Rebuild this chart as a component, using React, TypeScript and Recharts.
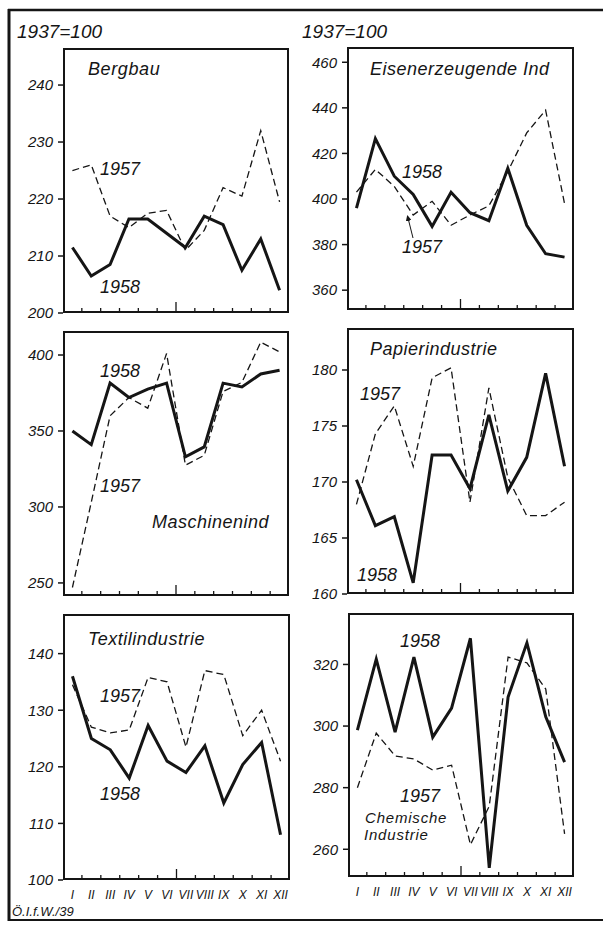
import React from "react";
import { LineChart, Line, XAxis, YAxis } from "recharts";

// monthly index values, 1937 = 100
const months = ["I", "II", "III", "IV", "V", "VI", "VII", "VIII", "IX", "X", "XI", "XII"];

const bergbau1957 = [225, 226, 217, 215, 217.5, 218, 211, 214.5, 222, 220.5, 232, 219.5];
const bergbau1958 = [211.5, 206.5, 208.5, 216.5, 216.5, 214, 211.5, 217, 215.5, 207.5, 213, 204];

const eisen1957 = [403, 413, 405.5, 393, 399, 388.5, 393, 397, 412, 429, 439, 398];
const eisen1958 = [396, 426.5, 410, 402, 388, 403, 394, 390.5, 413.5, 388.5, 376, 374.5];

const masch1957 = [247, 303, 360, 372, 365, 401, 327.5, 334, 376, 382, 408.5, 402];
const masch1958 = [350, 341, 381.5, 372, 377.5, 381.5, 333, 339.5, 381.5, 379, 387.5, 390];

const papier1957 = [168, 174.3, 176.8, 171.4, 179.3, 180.2, 168.2, 178.4, 170.4, 167, 167, 168.2];
const papier1958 = [170.2, 166.1, 166.9, 161, 172.4, 172.4, 169.4, 176, 169.2, 172.2, 179.7, 171.4];

const textil1957 = [134.5, 127, 126, 126.5, 135.8, 135, 123.5, 137, 136.3, 125.5, 130, 121];
const textil1958 = [136, 125, 123, 118, 127.3, 121, 119, 123.7, 113.6, 120.4, 124.3, 108];

const chem1957 = [280, 297.7, 290.3, 289.3, 285.7, 287.3, 261.5, 274, 322.4, 320.5, 312, 265];
const chem1958 = [298.7, 321.7, 298, 322.4, 296.4, 305.8, 328.5, 254, 309.4, 327, 303, 288.3];

const bergbauTicks = [200, 210, 220, 230, 240];
const eisenTicks = [360, 380, 400, 420, 440, 460];
const maschTicks = [250, 300, 350, 400];
const papierTicks = [160, 165, 170, 175, 180];
const textilTicks = [100, 110, 120, 130, 140];
const chemTicks = [260, 280, 300, 320];

const INK = "#151515";
const FONT = '"Liberation Sans", Arial, sans-serif';

// month labels sit in the middle of each month, small tick marks between months
const xTicks: number[] = [];
for (let i = 0; i < months.length; i++) {
  xTicks.push(i + 0.5);
  if (i < months.length - 1) xTicks.push(i + 1);
}

const renderMonthTick = (props: any, show: boolean) => {
  const { x, y, payload } = props;
  const v = payload.value;
  if (Number.isInteger(v)) {
    const len = v === 6 ? 11 : 5;
    return <line x1={x} y1={y} x2={x} y2={y - len} stroke={INK} strokeWidth={1.3} />;
  }
  if (!show) return <g />;
  return (
    <text x={x} y={y + 19} textAnchor="middle" fontSize={12} fontStyle="italic" fontFamily={FONT} fill={INK}>
      {months[Math.floor(v)]}
    </text>
  );
};

type PanelProps = {
  left: number;
  top: number;
  w: number;
  h: number;
  domain: [number, number];
  yTicks: number[];
  d57: number[];
  d58: number[];
  showMonths?: boolean;
};

function Panel({ left, top, w, h, domain, yTicks, d57, d58, showMonths = false }: PanelProps) {
  const rows = months.map((m, i) => ({ month: m, pos: i + 0.5, y1957: d57[i], y1958: d58[i] }));
  const YW = 56;
  const XH = 30;
  return (
    <div style={{ position: "absolute", left: left - YW, top, width: w + YW, height: h + XH }}>
      <LineChart width={w + YW} height={h + XH} data={rows} margin={{ top: 0, right: 0, bottom: 0, left: 0 }}>
        <XAxis
          dataKey="pos"
          type="number"
          domain={[0, 12]}
          ticks={xTicks}
          interval={0}
          height={XH}
          axisLine={false}
          tickLine={false}
          tickSize={0}
          tickMargin={0}
          tick={(p: any) => renderMonthTick(p, showMonths)}
        />
        <YAxis
          type="number"
          domain={domain}
          ticks={yTicks}
          interval={0}
          width={YW}
          allowDataOverflow
          axisLine={false}
          tickSize={5}
          tickMargin={5}
          tickLine={{ stroke: INK, strokeWidth: 1.5 }}
          tick={{ fontSize: 15, fontStyle: "italic", fill: INK, fontFamily: FONT }}
        />
        <Line
          type="linear"
          dataKey="y1957"
          stroke={INK}
          strokeWidth={1.3}
          strokeDasharray="7 4"
          dot={false}
          isAnimationActive={false}
        />
        <Line
          type="linear"
          dataKey="y1958"
          stroke={INK}
          strokeWidth={3}
          dot={false}
          isAnimationActive={false}
        />
      </LineChart>
      <div
        style={{
          position: "absolute",
          left: YW,
          top: 0,
          width: w,
          height: h,
          border: `2px solid ${INK}`,
          boxSizing: "border-box",
          pointerEvents: "none",
        }}
      />
    </div>
  );
}

const Label = ({ x, y, size = 18, spacing = 0, children }: any) => (
  <text x={x} y={y} fontSize={size} fontStyle="italic" fontFamily={FONT} fill={INK} letterSpacing={spacing}>
    {children}
  </text>
);

export default function App() {
  return (
    <div style={{ position: "absolute", left: 0, top: 0, width: 603, height: 925, background: "#fff", overflow: "hidden" }}>
      <Panel left={63} top={48} w={226} h={265} domain={[200, 246.5]} yTicks={bergbauTicks} d57={bergbau1957} d58={bergbau1958} />
      <Panel left={347} top={47} w={227} h={263} domain={[351.3, 466.7]} yTicks={eisenTicks} d57={eisen1957} d58={eisen1958} />
      <Panel left={63} top={331} w={226} h={265} domain={[241.4, 415.8]} yTicks={maschTicks} d57={masch1957} d58={masch1958} />
      <Panel left={347} top={328} w={227} h={266} domain={[160, 183.75]} yTicks={papierTicks} d57={papier1957} d58={papier1958} />
      <Panel left={63} top={614} w={227} h={266} domain={[100, 147]} yTicks={textilTicks} d57={textil1957} d58={textil1958} showMonths />
      <Panel left={348} top={613} w={226} h={264} domain={[251, 336.7]} yTicks={chemTicks} d57={chem1957} d58={chem1958} showMonths />

      <svg width={603} height={925} style={{ position: "absolute", left: 0, top: 0, pointerEvents: "none" }}>
        <defs>
          <marker id="arr" markerWidth="6" markerHeight="6" refX="3" refY="3" orient="auto">
            <path d="M0,0 L6,3 L0,6 Z" fill={INK} />
          </marker>
        </defs>
        {/* page frame */}
        <line x1={8} y1={10} x2={603} y2={10} stroke={INK} strokeWidth={2.5} />
        <line x1={9} y1={9} x2={9} y2={921} stroke={INK} strokeWidth={3} />
        <line x1={8} y1={920} x2={603} y2={920} stroke={INK} strokeWidth={2} />

        <Label x={17} y={38} size={19}>1937=100</Label>
        <Label x={302} y={38} size={19}>1937=100</Label>

        <Label x={88} y={75} spacing={0.6}>Bergbau</Label>
        <Label x={100} y={175}>1957</Label>
        <Label x={100} y={293}>1958</Label>

        <Label x={370} y={75} spacing={0.5}>Eisenerzeugende  Ind</Label>
        <Label x={402} y={178}>1958</Label>
        <Label x={402} y={253}>1957</Label>
        <line x1={413} y1={238} x2={408} y2={218} stroke={INK} strokeWidth={1} markerEnd="url(#arr)" />

        <Label x={100} y={377}>1958</Label>
        <Label x={100} y={492}>1957</Label>
        <Label x={152} y={528} spacing={0.5}>Maschinenind</Label>

        <Label x={370} y={355} spacing={0.5}>Papierindustrie</Label>
        <Label x={360} y={400}>1957</Label>
        <Label x={357} y={581}>1958</Label>

        <Label x={88} y={645} spacing={0.5}>Textilindustrie</Label>
        <Label x={100} y={702}>1957</Label>
        <Label x={100} y={800}>1958</Label>

        <Label x={400} y={647}>1958</Label>
        <Label x={400} y={802}>1957</Label>
        <Label x={365} y={823} size={15} spacing={0.8}>Chemische</Label>
        <Label x={364} y={840} size={15} spacing={0.8}>Industrie</Label>

        <Label x={12} y={916} size={13}>Ö.I.f.W./39</Label>
      </svg>
    </div>
  );
}
